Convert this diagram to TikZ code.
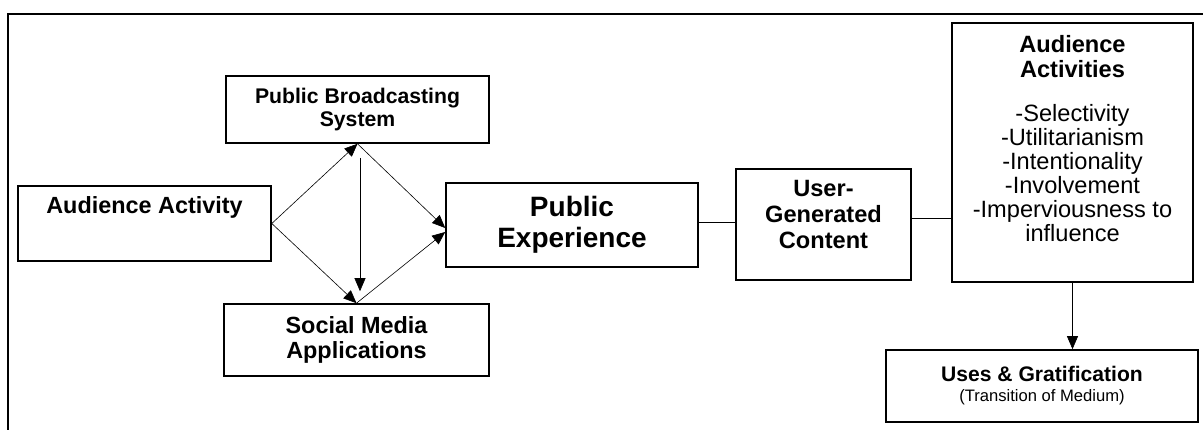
\documentclass[tikz,border=0pt]{standalone}
\usepackage{fontspec}
\setmainfont{Liberation Sans}
\usetikzlibrary{arrows.meta}

\begin{document}
\begin{tikzpicture}[x=1pt, y=1pt, every node/.style={draw, line width=1.6pt, align=center, inner sep=0pt},
	link/.style={line width=0.6pt, -{Triangle[length=13pt, width=11pt]}}]
	\useasboundingbox (0,0) rectangle (1203,430);
	\draw[line width=1.6pt] (8,0) -- (8,416) -- (1203,416);

	\node[minimum width=253pt, minimum height=75pt, font=\fontsize{23.4}{27}\bfseries\selectfont] (aa) at (144.5, 206.5) {Audience Activity\\[10pt]\mbox{}};
	\node[minimum width=263pt, minimum height=67pt, font=\fontsize{21.2}{23.3}\bfseries\selectfont] (pbs) at (357.5, 320.5) {Public Broadcasting\\System};
	\node[minimum width=265pt, minimum height=72pt, font=\fontsize{23.4}{25}\bfseries\selectfont] (sma) at (356.5, 90) {Social Media\\Applications};
	\node[minimum width=252pt, minimum height=84pt, font=\fontsize{28}{31}\bfseries\selectfont] (pe) at (572, 205) {Public\\Experience};
	\node[minimum width=175pt, minimum height=111pt, font=\fontsize{23.6}{26}\bfseries\selectfont] (ugc) at (823.5, 205.5) {User-\\Generated\\Content\\[-6pt]\mbox{}};

	\node[minimum width=241pt, minimum height=259pt, font=\fontsize{23.6}{24}\selectfont] (aas) at (1072.5, 277.5)
		{\textbf{Audience}\\[1.7pt]\textbf{Activities}\\[19.4pt]-Selectivity\\-Utilitarianism\\-Intentionality\\-Involvement\\-Imperviousness to\\influence\\[4.6pt]\mbox{}};
	\node[minimum width=312pt, minimum height=72pt, font=\fontsize{21.1}{20}\bfseries\selectfont] (ug) at (1042, 44)
		{Uses \& Gratification\\{\fontsize{16.6}{20}\mdseries\selectfont (Transition of Medium)}};

	\draw[link] (aa.east) -- (pbs.south);
	\draw[link] (aa.east) -- (sma.north);
	\draw[link] (pbs.south) -- ([yshift=-3pt]pe.west);
	\draw[link] (sma.north) -- ([yshift=-7pt]pe.west);
	\draw[link, shorten <=14pt, shorten >=12pt] ([xshift=2.5pt]pbs.south) -- ([xshift=3.5pt]sma.north);

	\draw[line width=0.6pt] ([yshift=3pt]pe.east) -- ([yshift=3pt]pe.east -| ugc.west);
	\draw[line width=0.6pt] ([yshift=6pt]ugc.east) -- ([yshift=6pt]ugc.east -| aas.west);
	\draw[link] (aas.south) -- (aas.south |- ug.north);
\end{tikzpicture}
\end{document}
